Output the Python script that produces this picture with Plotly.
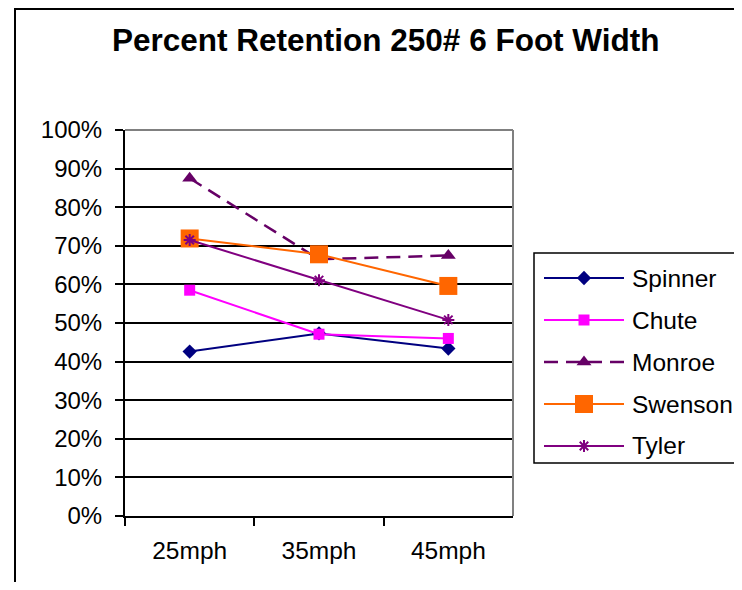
import plotly.graph_objects as go

# ---- data ----
categories = ["25mph", "35mph", "45mph"]
series_names = ["Spinner", "Chute", "Monroe", "Swenson", "Tyler"]
spinner = [0.426, 0.473, 0.434]
chute = [0.585, 0.471, 0.460]
monroe = [0.875, 0.665, 0.675]
swenson = [0.719, 0.678, 0.596]
tyler = [0.715, 0.611, 0.508]
y_tick_values = [0, 0.1, 0.2, 0.3, 0.4, 0.5, 0.6, 0.7, 0.8, 0.9, 1.0]
y_tick_labels = ["0%", "10%", "20%", "30%", "40%", "50%", "60%", "70%", "80%", "90%", "100%"]
title_text = "Percent Retention 250# 6 Foot Width"

# ---- styles / layout ----
OFF = 8                      # page body margin
W, H = 742 - 2 * OFF, 590 - 2 * OFF
FONT = "Liberation Sans, Arial, sans-serif"
styles = {
    "Spinner": dict(color="#000080", symbol="diamond", size=11, dash="solid", width=2),
    "Chute": dict(color="#FF00FF", symbol="square", size=11, dash="solid", width=2),
    "Monroe": dict(color="#660066", symbol="triangle-up", size=13, dash="14px,8px", width=2.5),
    "Swenson": dict(color="#FF6600", symbol="square", size=18, dash="solid", width=2),
    "Tyler": dict(color="#800080", symbol="asterisk-open", size=10, dash="solid", width=2),
}
values = {"Spinner": spinner, "Chute": chute, "Monroe": monroe, "Swenson": swenson, "Tyler": tyler}


def px_x(p):
    return (p - OFF) / W


def px_y(p):
    return 1 - (p - OFF) / H


# plot area in window pixels
PL, PR, PT, PB = 125, 513, 130, 516

fig = go.Figure()

for name in series_names:
    s = styles[name]
    marker = dict(symbol=s["symbol"], size=s["size"], color=s["color"])
    if s["symbol"].endswith("open"):
        marker["line"] = dict(color=s["color"], width=2)
    fig.add_trace(go.Scatter(
        x=categories, y=values[name], mode="lines+markers", name=name,
        line=dict(color=s["color"], width=s["width"], dash=s["dash"]),
        marker=marker, showlegend=False, xaxis="x", yaxis="y",
    ))

# ---- custom legend (layout) ----
LEG_L, LEG_T, LEG_B, LEG_R = 534, 253, 463, 760
row0, row_gap = 278, 42
line_x0, line_x1, text_x = 544, 624, 630
for i, name in enumerate(series_names):
    s = styles[name]
    ry = row0 + i * row_gap
    marker = dict(symbol=s["symbol"], size=s["size"], color=s["color"])
    if s["symbol"].endswith("open"):
        marker["line"] = dict(color=s["color"], width=2)
    fig.add_trace(go.Scatter(
        x=[line_x0, (line_x0 + line_x1) / 2, line_x1], y=[ry, ry, ry],
        mode="lines", line=dict(color=s["color"], width=s["width"], dash=s["dash"]),
        showlegend=False, xaxis="x2", yaxis="y2", hoverinfo="skip",
    ))
    fig.add_trace(go.Scatter(
        x=[(line_x0 + line_x1) / 2], y=[ry], mode="markers", marker=marker,
        showlegend=False, xaxis="x2", yaxis="y2", hoverinfo="skip",
    ))
    fig.add_annotation(
        x=px_x(text_x), y=px_y(ry), xref="paper", yref="paper", text=name,
        showarrow=False, xanchor="left", yanchor="middle",
        font=dict(family=FONT, size=24.5, color="black"),
    )

shapes = [
    # chart frame (top edge as high as the page allows)
    dict(type="rect", xref="paper", yref="paper", x0=px_x(15), x1=px_x(780),
         y0=px_y(620), y1=px_y(9), line=dict(color="black", width=2), layer="below"),
    # plot area right/top border (gray)
    dict(type="line", xref="paper", yref="paper", x0=px_x(PL), x1=px_x(PR),
         y0=px_y(PT), y1=px_y(PT), line=dict(color="#808080", width=2), layer="above"),
    dict(type="line", xref="paper", yref="paper", x0=px_x(PR), x1=px_x(PR),
         y0=px_y(PT), y1=px_y(PB), line=dict(color="#808080", width=2), layer="above"),
    # legend box
    dict(type="rect", xref="paper", yref="paper", x0=px_x(LEG_L), x1=px_x(LEG_R),
         y0=px_y(LEG_B), y1=px_y(LEG_T), line=dict(color="black", width=1.5), layer="below"),
]

fig.update_layout(
    width=W, height=H, autosize=False,
    margin=dict(l=0, r=0, t=0, b=0, pad=0, autoexpand=False),
    paper_bgcolor="white", plot_bgcolor="white",
    font=dict(family=FONT, size=24, color="black"),
    showlegend=False,
    shapes=shapes,
    xaxis=dict(
        type="category", domain=[px_x(PL), px_x(PR)], range=[-0.5, 2.5],
        showgrid=False, showline=True, linecolor="black", linewidth=2,
        ticks="outside", tickson="boundaries", ticklen=8, tickwidth=2, tickcolor="black",
        tickfont=dict(family=FONT, size=24.5, color="black"), ticklabelstandoff=12,
        zeroline=False, fixedrange=True, automargin=False,
    ),
    yaxis=dict(
        domain=[px_y(PB), px_y(PT)], range=[0, 1],
        tickvals=y_tick_values, ticktext=y_tick_labels,
        showgrid=True, gridcolor="black", gridwidth=2,
        showline=True, linecolor="black", linewidth=2,
        ticks="outside", ticklen=8, tickwidth=2, tickcolor="black",
        tickfont=dict(family=FONT, size=24, color="black"), ticklabelstandoff=8,
        zeroline=False, fixedrange=True, automargin=False,
    ),
    xaxis2=dict(domain=[px_x(LEG_L), 1], range=[LEG_L, 742 - OFF], visible=False,
                fixedrange=True, anchor="y2", automargin=False),
    yaxis2=dict(domain=[px_y(LEG_B), px_y(LEG_T)], range=[LEG_B, LEG_T], visible=False,
                fixedrange=True, anchor="x2", automargin=False),
    annotations=list(fig.layout.annotations) + [
        dict(x=px_x(386), y=px_y(40), xref="paper", yref="paper", text="<b>" + title_text + "</b>",
             showarrow=False, xanchor="center", yanchor="middle",
             font=dict(family=FONT, size=31.5, color="black")),
    ],
)

fig.write_html("out.html")
